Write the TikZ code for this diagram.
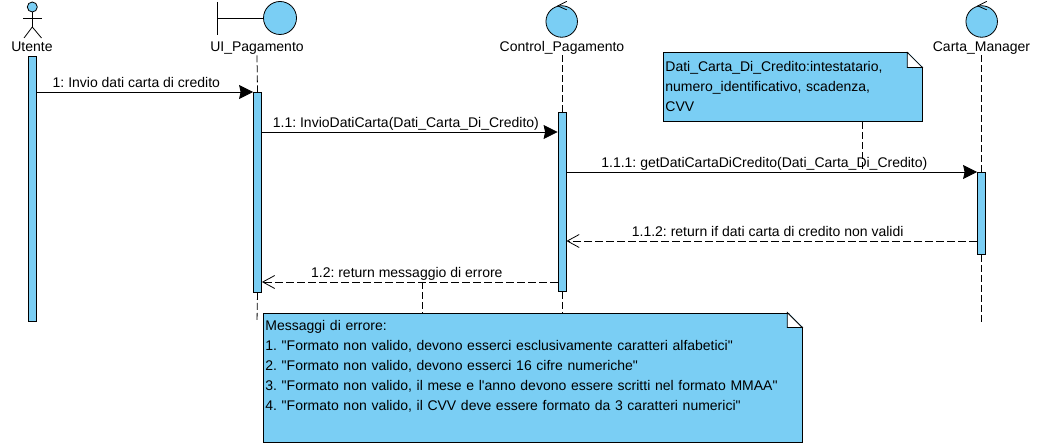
\documentclass[tikz,border=0pt]{standalone}
\usepackage{fontspec}
\setmainfont{Liberation Sans}[Ligatures=TeXOff]
\usetikzlibrary{positioning,arrows.meta,calc}
\definecolor{umlblue}{HTML}{7ACEF4}

\begin{document}
\frenchspacing
\begin{tikzpicture}[
      x=1pt,
      y=-1pt,
      line width=0.8pt,
      font=\fontsize{14}{19.8}\selectfont
    ]

    \tikzstyle{lifelabel} = [inner sep=0pt, text height=9pt, text depth=3pt]
    \tikzstyle{head} = [circle, draw=black, fill=umlblue, inner sep=0pt]
    \tikzstyle{bar} = [rectangle, draw=black, fill=umlblue, minimum width=8pt, inner sep=0pt, anchor=north]
    \tikzstyle{note} = [rectangle, draw=black, fill=umlblue, anchor=north west, align=left, inner xsep=2.5pt, text height=11pt]
    \tikzstyle{lifeline} = [dash pattern=on 7pt off 3pt]
    \tikzstyle{call} = [-{Stealth[length=14pt,width=14pt,inset=1.5pt]}]
    \tikzstyle{return} = [dash pattern=on 8pt off 3pt, -{Straight Barb[length=12pt,width=13pt]}]
    \tikzstyle{msg} = [above=2pt, inner sep=0pt, text height=9pt, text depth=2.5pt]

    \useasboundingbox (0,0) rectangle (1046,446);

    % labels
    \node [lifelabel] (utente) at (32,49) {Utente};
    \node [lifelabel] (uiPag) at (257,49) {UI\_Pagamento};
    \node [lifelabel] (controlPag) at (562,49) {Control\_Pagamento};
    \node [lifelabel] (cartaMan) at (981.5,49) {Carta\_Manager};

    % heads
    \node [head, minimum size=10pt] (utenteHead) at (32.3,7) {};
    \node [head, minimum size=33pt] (uiHead) at (280,18) {};
    \node [head, minimum size=31.5pt] (controlHead) at (561.7,21.5) {};
    \node [head, minimum size=31.5pt] (cartaHead) at (981.7,21.5) {};

    \draw (utenteHead.south) -- (32.3,27) coordinate (hip);
    \draw (23,18) -- (41.5,18);
    \draw (24,38) -- (hip) -- (41.5,38);

    \draw (217.5,2) -- (217.5,35);
    \draw (217.5,18) -- (uiHead.west);

    \foreach \n in {controlHead,cartaHead}
      \draw ($(\n.north)+(5,-4)$) -- ($(\n.north)+(-4,0.5)$) -- ($(\n.north)+(5,4.5)$);

    % activation bars
    \node [bar, minimum height=265pt] (barUtente) at (32.5,56) {};
    \node [bar, minimum height=200pt] (barUI) at (257.5,92) {};
    \node [bar, minimum height=179pt] (barControl) at (562,112) {};
    \node [bar, minimum height=82pt] (barCarta) at (981.5,172) {};

    % notes
    \node [note, text width=254pt, inner ysep=8pt, text depth=42pt] (noteDati) at (662.5,52.5) {
      Dati\_Carta\_Di\_Credito:intestatario,\\
      numero\_identificativo, scadenza,\\
      CVV};
    \node [note, text width=534pt, inner ysep=7pt, text depth=104pt] (noteErrori) at (262.5,312.5) {
      Messaggi di errore:\\
      1. "Formato non valido, devono esserci esclusivamente caratteri alfabetici"\\
      2. "Formato non valido, devono esserci 16 cifre numeriche"\\
      3. "Formato non valido, il mese e l'anno devono essere scritti nel formato MMAA"\\
      4. "Formato non valido, il CVV deve essere formato da 3 caratteri numerici"};

    \foreach \n in {noteDati,noteErrori} {
      \coordinate (c) at (\n.north -| \n.east);
      \fill [white] ($(c)+(-15,0)+(0,-1)$) -- ($(c)+(1,-1)$) -- ($(c)+(1,15)$) -- cycle;
      \filldraw [fill=white] ($(c)+(-15,0)$) -- ($(c)+(0,15)$) -- ($(c)+(-15,15)$) -- cycle;
    }

    % lifelines
    \coordinate (endUI) at (257,322);
    \coordinate (endCarta) at (981.5,322);
    \draw [lifeline] (uiPag.south) -- (barUI.north);
    \draw [lifeline] (barUI.south) -- (endUI);
    \draw [lifeline] (controlPag.south) -- (barControl.north);
    \draw [lifeline] (barControl.south) -- (barControl.south |- noteErrori.north);
    \draw [lifeline] (cartaMan.south) -- (barCarta.north);
    \draw [lifeline] (barCarta.south) -- (endCarta);

    % messages
    \coordinate (callControl) at (0,132);
    \coordinate (retCarta) at (0,241);
    \coordinate (retControl) at (0,282);
    \draw [call] (barUtente.east |- barUI.north) -- (barUI.north west)
      node[msg, pos=0.46] {1: Invio dati carta di credito};
    \draw [call] (barUI.east |- callControl) -- (barControl.west |- callControl)
      node[msg, pos=0.487] {1.1: InvioDatiCarta(Dati\_Carta\_Di\_Credito)};
    \draw [call] (barControl.east |- barCarta.north) -- (barCarta.north west)
      node[msg, pos=0.482] (msgDati) {1.1.1: getDatiCartaDiCredito(Dati\_Carta\_Di\_Credito)};
    \draw [return] (barCarta.west |- retCarta) -- (barControl.east |- retCarta)
      node[msg, pos=0.51] {1.1.2: return if dati carta di credito non validi};
    \draw [return] (barControl.west |- retControl) -- (barUI.east |- retControl)
      node[msg, pos=0.51] (msgErrore) {1.2: return messaggio di errore};

    % note links
    \coordinate (linkDati) at (862.5,172);
    \coordinate (linkErrore) at (422.5,282);
    \draw [lifeline] (noteDati.south -| linkDati) -- (linkDati);
    \draw [lifeline] (linkErrore) -- (noteErrori.north -| linkErrore);

\end{tikzpicture}
\end{document}
